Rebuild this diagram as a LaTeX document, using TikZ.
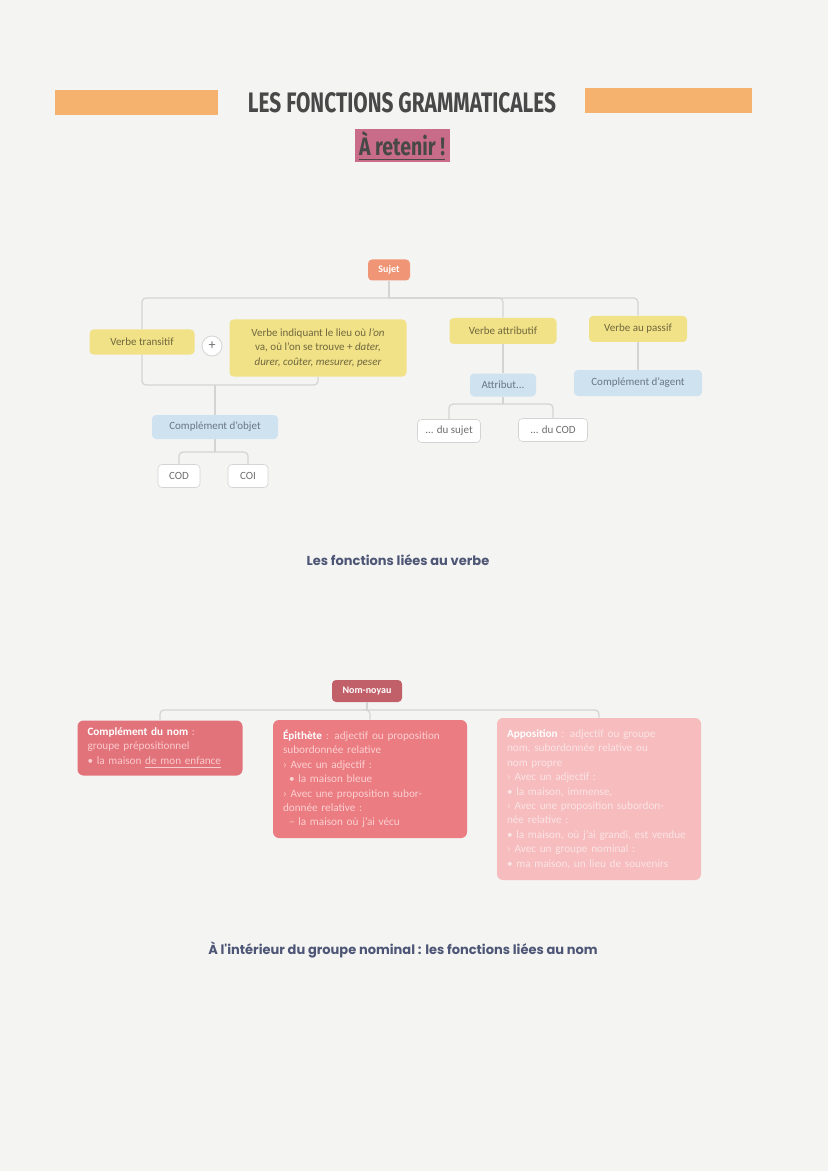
\documentclass[tikz,border=0pt]{standalone}
\usepackage{fontspec}
\usepackage{graphicx}
\setmainfont{Carlito}
\newfontfamily\titlefont{Fira Sans}
\newfontfamily\capfont{Poppins}

\definecolor{paper}{RGB}{244,244,243}
\definecolor{bandorange}{RGB}{245,178,110}
\definecolor{titlegray}{RGB}{72,72,72}
\definecolor{retenirpink}{RGB}{201,108,137}
\definecolor{sujetorange}{RGB}{240,150,118}
\definecolor{mapyellow}{RGB}{241,225,135}
\definecolor{yellowtext}{RGB}{112,104,62}
\definecolor{mapblue}{RGB}{207,226,240}
\definecolor{bluetext}{RGB}{105,118,132}
\definecolor{graytext}{RGB}{110,110,110}
\definecolor{linegray}{RGB}{212,212,212}
\definecolor{captext}{RGB}{78,86,118}
\definecolor{noyaurose}{RGB}{194,96,106}
\definecolor{cdnrose}{RGB}{226,115,123}
\definecolor{epirose}{RGB}{234,124,130}
\definecolor{apporose}{RGB}{246,188,190}

\tikzset{
	mapbox/.style={rounded corners=2pt, inner sep=0pt, align=center, font=\fontsize{5.5}{7.4}\selectfont},
	yellowbox/.style={mapbox, fill=mapyellow, text=yellowtext},
	bluebox/.style={mapbox, fill=mapblue, text=bluetext},
	whitebox/.style={mapbox, fill=white, draw=linegray, line width=0.3pt, text=graytext},
	link/.style={draw=linegray, line width=0.6pt, rounded corners=2pt},
	pinkbox/.style={rounded corners=3pt, inner xsep=5pt, inner ysep=3pt, align=left, font=\fontsize{5.6}{7.2}\selectfont},
	caption/.style={inner sep=0pt, text=captext, font=\capfont\bfseries\fontsize{6.5}{7.5}\selectfont},
}

\begin{document}
\begin{tikzpicture}[x=0.5pt,y=-0.5pt]
	\fill[color=paper] (0,0) rectangle (828,1171);
	\useasboundingbox (0,0) rectangle (828,1171);

	% titre
	\fill[color=bandorange] (55,90) rectangle (218,115);
	\fill[color=bandorange] (585,88) rectangle (752,113);
	\node[inner sep=0pt, text=titlegray] (titre) at (402,103) {\resizebox{154pt}{10pt}{\titlefont\bfseries LES FONCTIONS GRAMMATICALES}};
	\node[fill=retenirpink, inner sep=0pt, minimum width=47.5pt, minimum height=16.5pt, text=titlegray] (retenir) at (402,146) {\resizebox{43pt}{12pt}{\titlefont\bfseries\underline{À retenir !}}};

	% les fonctions liees au verbe
	\node[mapbox, fill=sujetorange, text=white, font=\bfseries\fontsize{5}{6}\selectfont, minimum width=21pt, minimum height=10.5pt] (sujet) at (389,270) {Sujet};
	\node[yellowbox, minimum width=52.5pt, minimum height=12.5pt] (vtrans) at (142,342) {Verbe transitif};
	\node[circle, draw=linegray, fill=white, line width=0.4pt, inner sep=0pt, minimum size=10pt, text=graytext, font=\fontsize{7}{7}\selectfont] (plus) at (212,346) {+};
	\node[yellowbox, minimum width=88.5pt, minimum height=28.5pt] (vlieu) at (318,348) {Verbe indiquant le lieu où \textit{l'on}\\va, où l'on se trouve + \textit{dater,}\\\textit{durer, coûter, mesurer, peser}};
	\node[yellowbox, minimum width=53.5pt, minimum height=13pt] (vattr) at (503,331) {Verbe attributif};
	\node[yellowbox, minimum width=49pt, minimum height=13pt] (vpass) at (638,329) {Verbe au passif};
	\node[bluebox, minimum width=33pt, minimum height=11.5pt] (attr) at (503,385) {Attribut...};
	\node[bluebox, minimum width=64pt, minimum height=13pt] (agent) at (638,383) {Complément d'agent};
	\node[whitebox, minimum width=31.5pt, minimum height=11.5pt] (dusujet) at (449,431) {... du sujet};
	\node[whitebox, minimum width=34.5pt, minimum height=11.5pt] (ducod) at (553,430) {... du COD};
	\node[bluebox, minimum width=63pt, minimum height=12pt] (cobj) at (215,427) {Complément d'objet};
	\node[whitebox, minimum width=21pt, minimum height=11.5pt] (cod) at (179,476) {COD};
	\node[whitebox, minimum width=20pt, minimum height=11.5pt] (coi) at (248,476) {COI};

	\coordinate (hub) at (389,298);
	\coordinate (grp) at (215,385);
	\coordinate (hubattr) at (503,404);
	\coordinate (hubobj) at (215,452);
	\draw[link] (sujet.south) -- (hub);
	\draw[link] (hub) -| (vtrans.north);
	\draw[link] (hub) -| (vattr.north);
	\draw[link] (hub) -| (vpass.north);
	\draw[link] (vtrans.south) |- (grp) -| (vlieu.south);
	\draw[link] (grp) -- (cobj.north);
	\draw[link] (vattr.south) -- (attr.north);
	\draw[link] (vpass.south) -- (agent.north);
	\draw[link] (attr.south) -- (hubattr);
	\draw[link] (hubattr) -| (dusujet.north);
	\draw[link] (hubattr) -| (ducod.north);
	\draw[link] (cobj.south) -- (hubobj);
	\draw[link] (hubobj) -| (cod.north);
	\draw[link] (hubobj) -| (coi.north);

	\node[caption] (legverbe) at (398,560) {Les fonctions liées au verbe};

	% les fonctions liees au nom
	\node[mapbox, fill=noyaurose, text=white, font=\bfseries\fontsize{5}{6}\selectfont, minimum width=35pt, minimum height=11pt] (noyau) at (367,691) {Nom-noyau};
	\node[pinkbox, fill=cdnrose, text={rgb,255:red,250;green,202;blue,204}, text width=72.5pt, minimum height=27.5pt] (cdn) at (160,748) {\textcolor{white}{\textbf{Complément du nom}} :\\groupe prépositionnel\\• la maison \underline{de mon enfance}};
	\node[pinkbox, fill=epirose, text={rgb,255:red,252;green,208;blue,208}, text width=87pt, minimum height=59pt] (epi) at (370,779) {\textcolor{white}{\textbf{Épithète}} : adjectif ou proposition\\subordonnée relative\\› Avec un adjectif :\\\hspace*{3pt}• la maison bleue\\› Avec une proposition subor-\\donnée relative :\\\hspace*{3pt}– la maison où j'ai vécu};
	\node[pinkbox, fill=apporose, text={rgb,255:red,252;green,228;blue,228}, text width=92pt, minimum height=81pt] (appo) at (599,799) {\textcolor{white}{\textbf{Apposition}} : adjectif ou groupe\\nom, subordonnée relative ou\\nom propre\\› Avec un adjectif :\\• la maison, immense,\\› Avec une proposition subordon-\\née relative :\\• la maison, où j'ai grandi, est vendue\\› Avec un groupe nominal :\\• ma maison, un lieu de souvenirs};

	\coordinate (hubnom) at (367,710);
	\draw[link] (noyau.south) -- (hubnom);
	\draw[link] (hubnom) -| (cdn.north);
	\draw[link] (hubnom) -| (epi.north);
	\draw[link] (hubnom) -| (appo.north);

	\node[caption] (legnom) at (403,950) {À l'intérieur du groupe nominal : les fonctions liées au nom};
\end{tikzpicture}
\end{document}
